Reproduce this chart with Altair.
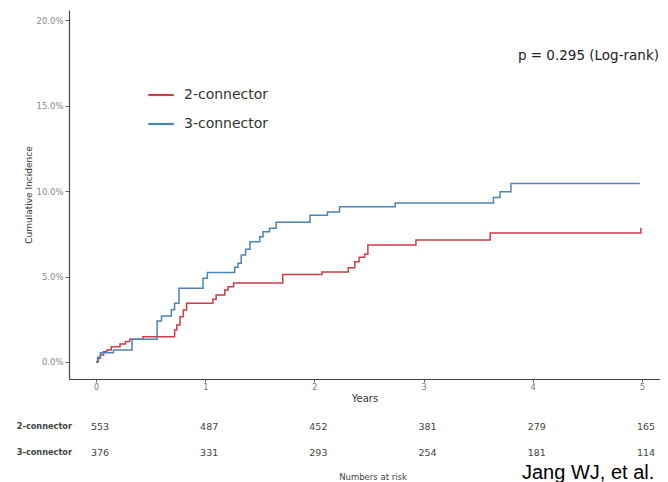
import altair as alt
import pandas as pd

# ---- data ----
t_2c = [0, 0.02, 0.04, 0.07, 0.10, 0.14, 0.22, 0.27, 0.31, 0.43, 0.72, 0.74, 0.77, 0.80, 0.83,
        1.07, 1.10, 1.18, 1.21, 1.26, 1.71, 2.07, 2.31, 2.37, 2.41, 2.46, 2.49, 2.93, 3.61, 4.98, 4.99]
v_2c = [0, 0.21, 0.41, 0.60, 0.70, 0.89, 1.05, 1.19, 1.33, 1.48, 1.87, 2.16, 2.65, 3.04, 3.43,
        3.67, 3.92, 4.21, 4.40, 4.62, 5.11, 5.26, 5.51, 5.87, 6.12, 6.30, 6.84, 7.13, 7.55, 7.55, 7.85]

t_3c = [0, 0.015, 0.04, 0.16, 0.33, 0.56, 0.60, 0.69, 0.72, 0.76, 0.98, 1.02, 1.27, 1.30, 1.33,
        1.37, 1.41, 1.50, 1.53, 1.59, 1.65, 1.96, 2.12, 2.23, 2.74, 3.64, 3.70, 3.80, 4.98]
v_3c = [0, 0.27, 0.54, 0.70, 1.33, 2.40, 2.69, 3.06, 3.43, 4.31, 4.90, 5.24, 5.54, 5.77, 6.26,
        6.59, 7.04, 7.33, 7.62, 7.82, 8.17, 8.58, 8.77, 9.08, 9.30, 9.63, 9.96, 10.45, 10.45]

groups = ["2-connector", "3-connector"]
colors = ["#cc3d4a", "#4a85b5"]

risk_times = [0, 1, 2, 3, 4, 5]
risk_2c = [553, 487, 452, 381, 279, 165]
risk_3c = [376, 331, 293, 254, 181, 114]

y_ticks = [0, 0.05, 0.10, 0.15, 0.20]
x_ticks = [0, 1, 2, 3, 4, 5]

# ---- tables ----
curves = pd.concat([
    pd.DataFrame({"t": t_2c, "v": [x / 100 for x in v_2c], "g": groups[0]}),
    pd.DataFrame({"t": t_3c, "v": [x / 100 for x in v_3c], "g": groups[1]}),
])
risk2 = pd.DataFrame({"t": risk_times, "n": risk_2c})
risk3 = pd.DataFrame({"t": risk_times, "n": risk_3c})

FONT = "DejaVu Sans"

x_enc = alt.X("t:Q",
              scale=alt.Scale(domain=[-0.247, 5.165], nice=False, zero=False),
              axis=alt.Axis(title="Years", values=x_ticks, format="d", grid=False,
                            domainColor="#444", domainWidth=1.2, tickColor="#666",
                            tickSize=3, labelPadding=1, labelFontSize=8, labelColor="#777",
                            titleFontSize=10, titleColor="#333", titleFontWeight="normal",
                            titlePadding=2, labelFont=FONT, titleFont=FONT))

lines = alt.Chart(curves).mark_line(interpolate="step-after", strokeWidth=1.5).encode(
    x=x_enc,
    y=alt.Y("v:Q",
            scale=alt.Scale(domain=[-0.01, 0.206], nice=False, zero=False),
            axis=alt.Axis(title="Cumulative Incidence", values=y_ticks, format=".1%",
                          grid=False, domainColor="#444", domainWidth=1.2, tickColor="#666",
                          tickSize=4, labelPadding=2, labelFontSize=8.5, labelColor="#888",
                          titleFontSize=9, titleColor="#333", titleFontWeight="normal",
                          titlePadding=2, labelFont=FONT, titleFont=FONT)),
    color=alt.Color("g:N", scale=alt.Scale(domain=groups, range=colors),
                    legend=alt.Legend(title=None, orient="none", legendX=78, legendY=71,
                                      symbolType="stroke", symbolSize=650,
                                      symbolStrokeWidth=2.2, labelFontSize=14,
                                      labelColor="#333", labelFont=FONT, labelOffset=9,
                                      rowPadding=8, padding=0)),
)

pval = alt.Chart(pd.DataFrame({"s": ["p = 0.295 (Log-rank)"]})).mark_text(
    align="right", baseline="middle", fontSize=13.5, font=FONT, color="#222"
).encode(x=alt.value(590), y=alt.value(46), text="s:N")

row2 = alt.Chart(risk2).mark_text(align="center", baseline="middle", fontSize=9.5,
                                  font=FONT, color="#444", dx=4).encode(
    x=x_enc, y=alt.value(417), text="n:Q")
row3 = alt.Chart(risk3).mark_text(align="center", baseline="middle", fontSize=9.5,
                                  font=FONT, color="#444", dx=4).encode(
    x=x_enc, y=alt.value(443), text="n:Q")

labels = alt.Chart(pd.DataFrame({"s": groups, "yy": [417, 443]})).mark_text(
    align="right", baseline="middle", fontSize=8.2, font=FONT, fontWeight="bold", color="#444"
).encode(x=alt.value(3), y=alt.Y("yy:Q", scale=None), text="s:N")

footer = alt.Chart(pd.DataFrame({"s": ["Numbers at risk"]})).mark_text(
    align="center", baseline="middle", fontSize=8.5, font=FONT, color="#444"
).encode(x=alt.value(304), y=alt.value(467), text="s:N")

credit = alt.Chart(pd.DataFrame({"s": ["Jang WJ, et al."]})).mark_text(
    align="left", baseline="alphabetic", fontSize=20, font="Liberation Sans", color="#000"
).encode(x=alt.value(453), y=alt.value(469), text="s:N")

chart = alt.layer(lines, pval, row2, row3, labels, footer, credit).properties(
    width=591, height=369,
    autosize=alt.AutoSizeParams(type="none"),
    padding={"left": 61, "top": 2, "right": 0, "bottom": 103},
    background="white",
).configure_view(stroke=None)

chart.save("out.html", embed_options={"renderer": "svg", "actions": False})
